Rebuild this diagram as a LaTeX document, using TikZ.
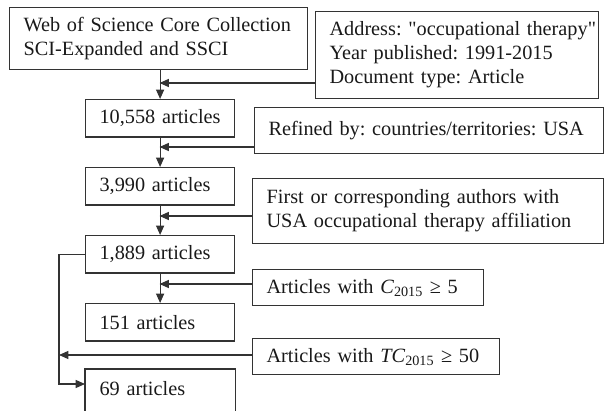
\documentclass[tikz,border=0pt]{standalone}
\usepackage{fontspec}
\setmainfont{Liberation Serif}[Ligatures=TeXOff]
\usetikzlibrary{arrows.meta}
\begin{document}
\begin{tikzpicture}[x=0.75pt, y=-0.75pt,
    box/.style={draw=black!80, line width=0.9pt, anchor=north west, inner xsep=10.5pt, inner ysep=0pt,
        align=left, text=black!90, font=\fontsize{15.2}{18}\selectfont\frenchspacing},
    count/.style={box, minimum width=111.75pt, minimum height=28pt, text width=90.75pt},
    link/.style={draw=black!80, line width=0.9pt},
    arr/.style={link, -{Triangle[length=7pt, width=6pt]}}]
    \path[use as bounding box, clip] (0,0) rectangle (608,411);
    % Main column
    \node[box, minimum width=223.5pt, minimum height=46.5pt, text width=202.5pt] (wos) at (9,7)
        {\mbox{Web of Science Core Collection}\\\mbox{SCI-Expanded and SSCI}};
    \node[count] (n1) at (85,99) {\mbox{10,558 articles}};
    \node[count] (n2) at (85,167) {\mbox{3,990 articles}};
    \node[count] (n3) at (85,235) {\mbox{1,889 articles}};
    \node[count] (n4) at (85,303) {\mbox{151 articles}};
    \node[count, draw=none] (n5) at (85,369) {\mbox{69 articles}};
    \draw[link] ([yshift=-30pt]n5.south west) -- (n5.north west) -- (n5.north east) -- ([yshift=-30pt]n5.south east);
    % Filters
    \node[box, minimum width=212.25pt, minimum height=65.25pt, text width=191.25pt] (addr) at (315,11)
        {\mbox{Address: "occupational therapy"}\\\mbox{Year published: 1991-2015}\\\mbox{Document type: Article}};
    \node[box, minimum width=261.75pt, minimum height=34.5pt, text width=240.75pt] (usa) at (254,107)
        {\mbox{Refined by: countries/territories: USA}};
    \node[box, minimum width=263.25pt, minimum height=48.75pt, text width=242.25pt] (auth) at (252,178)
        {\mbox{First or corresponding authors with}\\\mbox{USA occupational therapy affiliation}};
    \node[box, minimum width=173.25pt, minimum height=27pt, text width=152.25pt] (cit) at (252,269)
        {\mbox{Articles with \textit{C}\textsubscript{2015} ≥ 5}};
    \node[box, minimum width=185.25pt, minimum height=27pt, text width=164.25pt] (tcit) at (252,338)
        {\mbox{Articles with \textit{TC}\textsubscript{2015} ≥ 50}};
    % Junctions
    \coordinate (j1) at (159.5,83);
    \coordinate (j2) at (159.5,147);
    \coordinate (j3) at (159.5,216);
    \coordinate (j4) at (159.5,284);
    \coordinate (j5) at (59,355);
    \coordinate (j6) at (59,384);
    % Arrows
    \draw[arr] (n1.north |- wos.south) -- (n1.north);
    \draw[arr] (n1.south) -- (n2.north);
    \draw[arr] (n2.south) -- (n3.north);
    \draw[arr] (n3.south) -- (n4.north);
    \draw[arr] (addr.west |- j1) -- (j1);
    \draw[arr] (usa.west |- j2) -- (j2);
    \draw[arr] (auth.west |- j3) -- (j3);
    \draw[arr] (cit.west |- j4) -- (j4);
    \draw[arr] (tcit.west |- j5) -- (j5);
    \draw[arr] (n3.west) -| (j6) -- (n5.west |- j6);
\end{tikzpicture}
\end{document}
